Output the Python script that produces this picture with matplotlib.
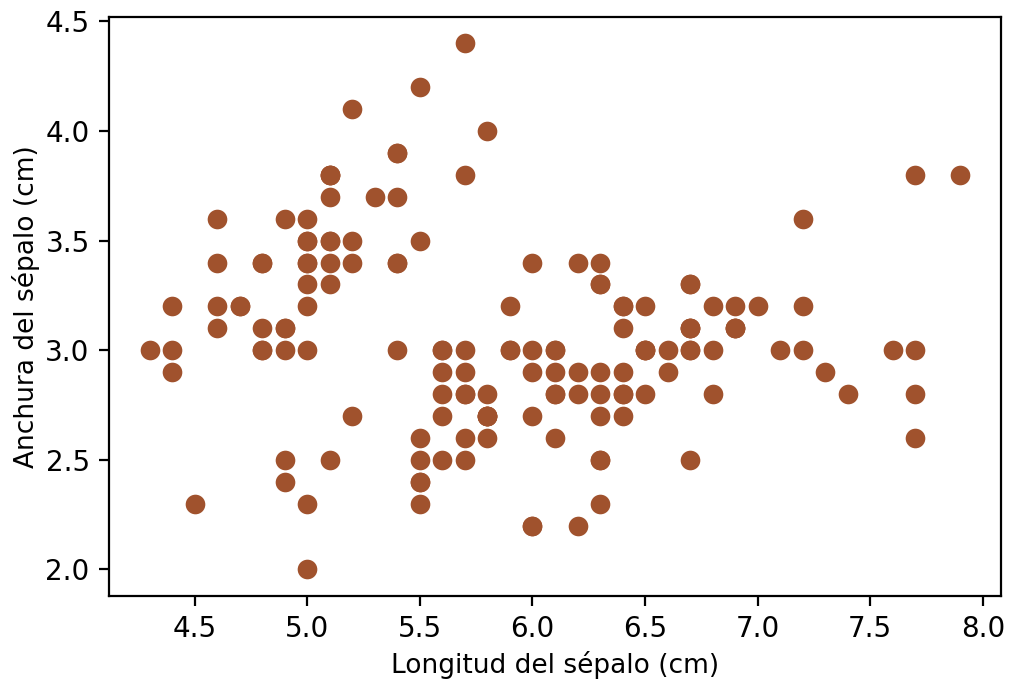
import numpy as np
import matplotlib
matplotlib.use('Agg')
import matplotlib.pyplot as plt

# sepal length / width (cm)
sepal_length = [
    5.1, 4.9, 4.7, 4.6, 5.0, 5.4, 4.6, 5.0, 4.4, 4.9, 5.4, 4.8, 4.8, 4.3, 5.8, 5.7, 5.4, 5.1, 5.7, 5.1,
    5.4, 5.1, 4.6, 5.1, 4.8, 5.0, 5.0, 5.2, 5.2, 4.7, 4.8, 5.4, 5.2, 5.5, 4.9, 5.0, 5.5, 4.9, 4.4, 5.1,
    5.0, 4.5, 4.4, 5.0, 5.1, 4.8, 5.1, 4.6, 5.3, 5.0,
    7.0, 6.4, 6.9, 5.5, 6.5, 5.7, 6.3, 4.9, 6.6, 5.2, 5.0, 5.9, 6.0, 6.1, 5.6, 6.7, 5.6, 5.8, 6.2, 5.6,
    5.9, 6.1, 6.3, 6.1, 6.4, 6.6, 6.8, 6.7, 6.0, 5.7, 5.5, 5.5, 5.8, 6.0, 5.4, 6.0, 6.7, 6.3, 5.6, 5.5,
    5.5, 6.1, 5.8, 5.0, 5.6, 5.7, 5.7, 6.2, 5.1, 5.7,
    6.3, 5.8, 7.1, 6.3, 6.5, 7.6, 4.9, 7.3, 6.7, 7.2, 6.5, 6.4, 6.8, 5.7, 5.8, 6.4, 6.5, 7.7, 7.7, 6.0,
    6.9, 5.6, 7.7, 6.3, 6.7, 7.2, 6.2, 6.1, 6.4, 7.2, 7.4, 7.9, 6.4, 6.3, 6.1, 7.7, 6.3, 6.4, 6.0, 6.9,
    6.7, 6.9, 5.8, 6.8, 6.7, 6.7, 6.3, 6.5, 6.2, 5.9]
sepal_width = [
    3.5, 3.0, 3.2, 3.1, 3.6, 3.9, 3.4, 3.4, 2.9, 3.1, 3.7, 3.4, 3.0, 3.0, 4.0, 4.4, 3.9, 3.5, 3.8, 3.8,
    3.4, 3.7, 3.6, 3.3, 3.4, 3.0, 3.4, 3.5, 3.4, 3.2, 3.1, 3.4, 4.1, 4.2, 3.1, 3.2, 3.5, 3.6, 3.0, 3.4,
    3.5, 2.3, 3.2, 3.5, 3.8, 3.0, 3.8, 3.2, 3.7, 3.3,
    3.2, 3.2, 3.1, 2.3, 2.8, 2.8, 3.3, 2.4, 2.9, 2.7, 2.0, 3.0, 2.2, 2.9, 2.9, 3.1, 3.0, 2.7, 2.2, 2.5,
    3.2, 2.8, 2.5, 2.8, 2.9, 3.0, 2.8, 3.0, 2.9, 2.6, 2.4, 2.4, 2.7, 2.7, 3.0, 3.4, 3.1, 2.3, 3.0, 2.5,
    2.6, 3.0, 2.6, 2.3, 2.7, 3.0, 2.9, 2.9, 2.5, 2.8,
    3.3, 2.7, 3.0, 2.9, 3.0, 3.0, 2.5, 2.9, 2.5, 3.6, 3.2, 2.7, 3.0, 2.5, 2.8, 3.2, 3.0, 3.8, 2.6, 2.2,
    3.2, 2.8, 2.8, 2.7, 3.3, 3.2, 2.8, 3.0, 2.8, 3.0, 2.8, 3.8, 2.8, 2.8, 2.6, 3.0, 3.4, 3.1, 3.0, 3.1,
    3.1, 3.1, 2.7, 3.2, 3.3, 3.0, 2.5, 3.0, 3.4, 3.0]

fig, ax = plt.subplots(figsize=(1010 / 200, 680 / 200), dpi=200)
ax.scatter(sepal_length, sepal_width, s=50, color='#a0522d', linewidths=0)
ax.set_xlabel('Longitud del sépalo (cm)', fontsize=9.5, labelpad=2.8)
ax.set_ylabel('Anchura del sépalo (cm)', fontsize=9.5, labelpad=2)
fig.subplots_adjust(left=0.108, right=0.991, top=0.975, bottom=0.124)
fig.savefig('out.png', dpi=200)
